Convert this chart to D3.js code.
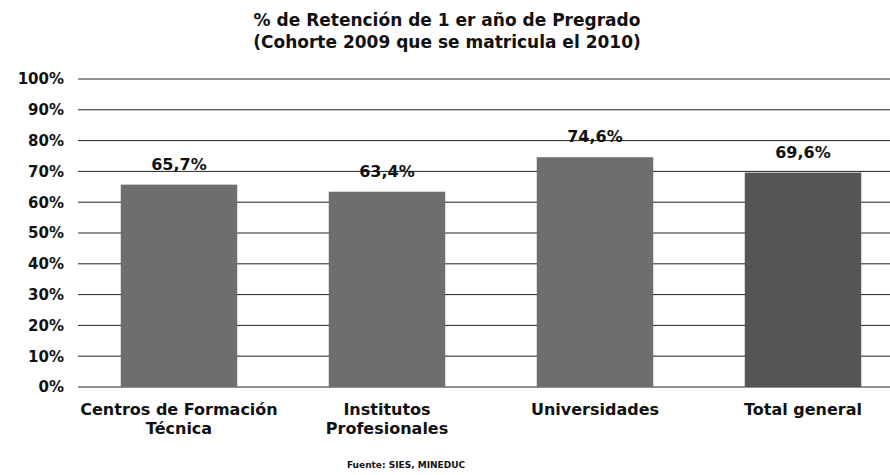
<!DOCTYPE html>
<html>
<head>
<meta charset="utf-8">
<script src="https://cdn.jsdelivr.net/npm/d3@7"></script>
<style>
  body { margin: 0; background: #fff; }
  svg { display: block; }
  text { font-family: "DejaVu Sans", Verdana, sans-serif; font-weight: bold; fill: #111; }
</style>
</head>
<body>
<svg id="chart" width="890" height="475"></svg>
<script>
const categories = [["Centros de Formación", "Técnica"], ["Institutos", "Profesionales"], ["Universidades"], ["Total general"]];
const values = [65.7, 63.4, 74.6, 69.6];
const valueLabels = ["65,7%", "63,4%", "74,6%", "69,6%"];
const yTicks = [0, 10, 20, 30, 40, 50, 60, 70, 80, 90, 100];
const titleLines = ["% de Retención de 1 er año de Pregrado", "(Cohorte 2009 que se matricula el 2010)"];
const source = "Fuente: SIES, MINEDUC";
const barColors = ["#6e6e6e", "#6e6e6e", "#6e6e6e", "#555555"];

const svg = d3.select("#chart");
const W = 890, H = 475;

const x = d3.scaleBand().domain(d3.range(categories.length)).range([75, 907]).paddingInner(0.44).paddingOuter(0.22);
const y = d3.scaleLinear().domain([0, 100]).range([387, 79]);

// title
svg.append("g").selectAll("text").data(titleLines).join("text")
  .attr("x", 447).attr("y", (d, i) => 26 + i * 22)
  .attr("text-anchor", "middle").attr("font-size", 17)
  .text(d => d);

// y axis labels
const yAxis = d3.axisLeft(y).tickValues(yTicks).tickFormat(d => d + "%").tickSize(0).tickPadding(12);
const gAxis = svg.append("g").attr("transform", "translate(76,0)").call(yAxis);
gAxis.select(".domain").remove();
gAxis.selectAll("text").attr("font-size", 15).attr("font-family", "DejaVu Sans, sans-serif").attr("font-weight", "bold").attr("fill", "#111");

// gridlines
svg.append("g").selectAll("line").data(yTicks).join("line")
  .attr("x1", 78).attr("x2", W)
  .attr("y1", d => y(d)).attr("y2", d => y(d))
  .attr("stroke", "#222").attr("stroke-width", 1);

// bars
svg.append("g").selectAll("rect").data(values).join("rect")
  .attr("x", (d, i) => x(i)).attr("width", x.bandwidth())
  .attr("y", d => y(d)).attr("height", d => y(0) - y(d))
  .attr("fill", (d, i) => barColors[i]);

// value labels
svg.append("g").selectAll("text").data(values).join("text")
  .attr("x", (d, i) => x(i) + x.bandwidth() / 2)
  .attr("y", d => y(d) - 15)
  .attr("text-anchor", "middle").attr("font-size", 16)
  .text((d, i) => valueLabels[i]);

// category labels
const cat = svg.append("g").selectAll("text").data(categories).join("text")
  .attr("text-anchor", "middle").attr("font-size", 16);
cat.each(function(d, i) {
  d3.select(this).selectAll("tspan").data(d).join("tspan")
    .attr("x", x(i) + x.bandwidth() / 2)
    .attr("y", (t, j) => 415 + j * 19)
    .text(t => t);
});

// source
svg.append("text").attr("x", 406).attr("y", 468).attr("text-anchor", "middle")
  .attr("font-size", 9).text(source);
</script>
</body>
</html>
